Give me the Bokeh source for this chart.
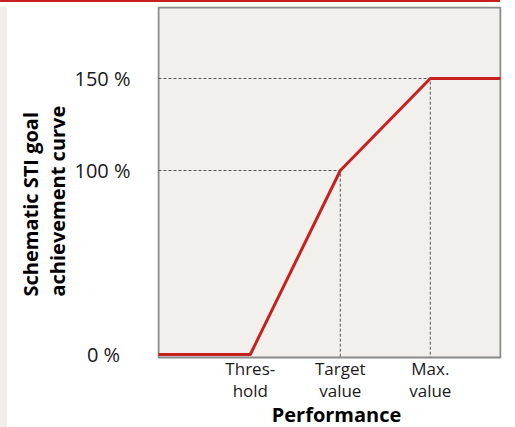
from bokeh.plotting import figure
from bokeh.models import Range1d, FixedTicker, Title, Div
from bokeh.layouts import column
from bokeh.core.properties import value
from bokeh.embed import file_html
from bokeh.resources import INLINE

# ---- data ----
x_ticks = [1, 2, 3]
x_labels = ["Thres-\nhold", "Target\nvalue", "Max.\nvalue"]
x_title = "Performance"
y_ticks = [0, 100, 150]
y_labels = ["0 %\u00a0\u00a0", "100 %", "150 %"]
y_title = ["Schematic STI goal", "achievement curve"]
curve_x = [-0.02, 1, 2, 3, 3.78]
curve_y = [0, 0, 100, 150, 150]
x_min, x_max = -0.02, 3.78
y_box_min, y_box_max = -1.6, 188.59

FONT = "Open Sans"
RED = "#c8201f"
BG = "#f1f0ed"

p = figure(width=515, height=427,
           x_range=Range1d(x_min - 0.0111, x_max + 0.0111),
           y_range=Range1d(-39.67, 189.13),
           output_backend="svg", toolbar_location=None,
           min_border_left=157, min_border_right=14, min_border_top=6, min_border_bottom=0)

p.background_fill_color = "white"
p.border_fill_color = "white"
p.outline_line_color = None
p.grid.visible = False

# plot area box
p.quad(left=x_min, right=x_max, bottom=y_box_min, top=y_box_max,
       fill_color=BG, line_color="#8a8a8a", line_width=2)

# dashed guides
p.line([x_min, 2, 2], [100, 100, y_box_min], line_color="#555555", line_width=1, line_dash="3 2")
p.line([x_min, 3, 3], [150, 150, y_box_min], line_color="#555555", line_width=1, line_dash="3 2")

# curve
p.line(curve_x, curve_y, line_color=RED, line_width=3)

# x axis labels (two lines each) and axis title, below the box
p.xaxis.ticker = FixedTicker(ticks=x_ticks)
p.xaxis.visible = False
first = [l.split("\n")[0] for l in x_labels]
second = [l.split("\n")[1] for l in x_labels]
for lines, off in ((first, 11), (second, 33)):
    p.text(x=x_ticks, y=[y_box_min] * len(x_ticks), text=lines, y_offset=off,
           text_font=value(FONT), text_font_size=value("17px"), text_color="#1a1a1a",
           text_align="center", text_baseline="alphabetic")
p.text(x=[(x_min + x_max) / 2], y=[y_box_min], text=[x_title], x_offset=7, y_offset=57,
       text_font=value(FONT), text_font_size=value("20px"), text_font_style="bold",
       text_color="#000000", text_align="center", text_baseline="alphabetic")

# y axis
yax = p.yaxis[0]
yax.axis_line_color = None
yax.major_tick_line_color = None
yax.minor_tick_line_color = None
yax.major_label_text_font = FONT
yax.major_label_text_color = "#1a1a1a"
yax.ticker = FixedTicker(ticks=y_ticks)
yax.major_label_overrides = {t: l for t, l in zip(y_ticks, y_labels)}
yax.major_label_text_font_size = "20px"
yax.major_label_standoff = 21

p.add_layout(Title(text=y_title[1], align="left", offset=131, standoff=2, text_font=FONT,
                   text_font_size="20px", text_font_style="bold", text_color="#000000"), "left")
p.add_layout(Title(text=y_title[0], align="left", offset=131, standoff=-6, text_font=FONT,
                   text_font_size="20px", text_font_style="bold", text_color="#000000"), "left")

# page decorations (fixed to the window corner)
top_bar = Div(text="", width=500, height=2, margin=0,
              styles={"position": "fixed", "top": "0px", "left": "0px", "background-color": RED})
left_strip = Div(text="", width=7, height=420, margin=0,
                 styles={"position": "fixed", "top": "7px", "left": "0px", "background-color": "#efeee9"})
layout = column(p, top_bar, left_strip, spacing=0)

open("out.html", "w").write(file_html(layout, INLINE))
